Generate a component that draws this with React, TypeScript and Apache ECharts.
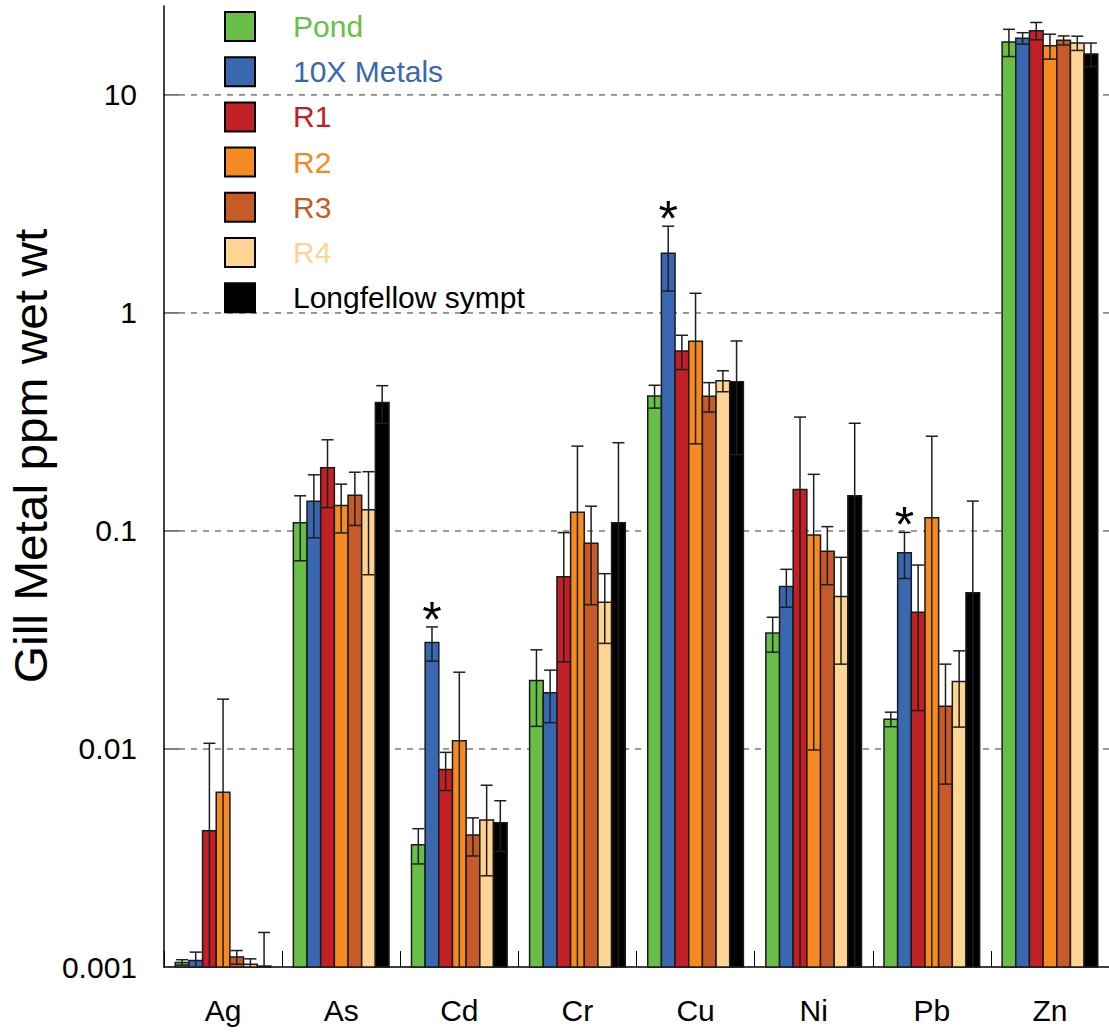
import React, { useEffect, useRef } from 'react';
import * as echarts from 'echarts';

const categories = ['Ag', 'As', 'Cd', 'Cr', 'Cu', 'Ni', 'Pb', 'Zn'];
const seriesNames = ['Pond', '10X Metals', 'R1', 'R2', 'R3', 'R4', 'Longfellow sympt'];
const colors = ['#69BE47', '#3A68B0', '#C02026', '#F48A20', '#C65A28', '#FDD493', '#000000'];

// means (ppm wet wt)
const pond = [0.00105, 0.109, 0.00364, 0.0206, 0.416, 0.034, 0.0137, 17.5];
const metals10x = [0.00107, 0.137, 0.0308, 0.0181, 1.88, 0.0557, 0.0795, 18.2];
const r1 = [0.00422, 0.195, 0.00805, 0.0617, 0.67, 0.155, 0.0424, 19.7];
const r2 = [0.00633, 0.131, 0.0109, 0.122, 0.741, 0.0959, 0.115, 16.8];
const r3 = [0.00111, 0.146, 0.00403, 0.0879, 0.415, 0.0807, 0.0157, 17.8];
const r4 = [0.00103, 0.125, 0.00472, 0.0471, 0.489, 0.0501, 0.0204, 17.3];
const longfellow = [0.00101, 0.388, 0.00459, 0.109, 0.484, 0.145, 0.0521, 15.4];

// standard errors
const pondErr = [0.00003, 0.036, 0.00067, 0.0079, 0.05, 0.0062, 0.00105, 2.5];
const metals10xErr = [0.0001, 0.044, 0.0055, 0.0049, 0.62, 0.011, 0.019, 1.1];
const r1Err = [0.0064, 0.067, 0.0016, 0.0366, 0.12, 0.178, 0.0274, 1.8];
const r2Err = [0.0106, 0.033, 0.0116, 0.123, 0.49, 0.086, 0.157, 2.2];
const r3Err = [0.00008, 0.04, 0.0008, 0.042, 0.064, 0.024, 0.0088, 0.85];
const r4Err = [0.00006, 0.062, 0.0021, 0.0166, 0.054, 0.0256, 0.0078, 1.3];
const longfellowErr = [0.00043, 0.076, 0.0012, 0.145, 0.26, 0.167, 0.085, 1.9];

// significance markers (10X Metals)
const sig10x = [0, 0, 1, 0, 1, 0, 1, 0];

// y axis (log10 space)
const yTickLogs = [-3, -2, -1, 0, 1];
const Y_MIN_LOG = -3;
const Y_MAX_LOG = 1.408;

const FONT = '"Liberation Sans", Arial, Helvetica, sans-serif';

export default function App() {
  const ref = useRef<HTMLDivElement>(null);

  useEffect(() => {
    const chart = echarts.init(ref.current as HTMLDivElement, null, { renderer: 'svg' });
    const values = [pond, metals10x, r1, r2, r3, r4, longfellow];
    const errs = [pondErr, metals10xErr, r1Err, r2Err, r3Err, r4Err, longfellowErr];
    const nSeries = values.length;
    const minVal = Math.pow(10, Y_MIN_LOG);

    const makeSeries = (si: number) => ({
      type: 'custom',
      name: seriesNames[si],
      z: 3,
      itemStyle: { color: colors[si], borderColor: '#000', borderWidth: 1.5 },
      encode: { x: 0, y: [1, 2, 3] },
      data: categories.map((c, i) => {
        const v = values[si][i];
        const e = errs[si][i];
        const lo = v - e;
        const hasLo = lo > minVal;
        return [
          i,
          Math.log10(v),
          Math.log10(v + e),
          hasLo ? Math.log10(lo) : Y_MIN_LOG,
          hasLo ? 1 : 0,
          si === 1 ? sig10x[i] : 0,
        ];
      }),
      renderItem: (params: any, api: any) => {
        const cat = api.value(0);
        const cw = api.size([1, 0])[0];
        const bw = cw * 0.1157;
        const topPt = api.coord([cat, api.value(1)]);
        const basePt = api.coord([cat, Y_MIN_LOG]);
        const upPt = api.coord([cat, api.value(2)]);
        const loPt = api.coord([cat, api.value(3)]);
        const x0 = topPt[0] + (si - nSeries / 2) * bw;
        const cx = x0 + bw / 2;
        const errStyle = { stroke: '#1e1e1e', lineWidth: 1.5 };
        const children: any[] = [
          {
            type: 'rect',
            shape: { x: x0, y: topPt[1], width: bw, height: Math.max(basePt[1] - topPt[1], 1) },
            style: { fill: colors[si], stroke: '#1a1a1a', lineWidth: 1.5 },
          },
          { type: 'line', shape: { x1: cx, y1: upPt[1], x2: cx, y2: loPt[1] }, style: errStyle },
          { type: 'line', shape: { x1: cx - 6, y1: upPt[1], x2: cx + 6, y2: upPt[1] }, style: errStyle },
        ];
        if (api.value(4)) {
          children.push({ type: 'line', shape: { x1: cx - 6, y1: loPt[1], x2: cx + 6, y2: loPt[1] }, style: errStyle });
        }
        if (api.value(5)) {
          children.push({
            type: 'text',
            style: {
              text: '*',
              x: cx,
              y: upPt[1] - 32,
              textAlign: 'center',
              textVerticalAlign: 'top',
              fontSize: 50,
              fontFamily: FONT,
              fill: '#000',
            },
          });
        }
        return { type: 'group', children };
      },
    });

    const gridSeries = {
      type: 'custom',
      name: '__grid',
      z: 1,
      silent: true,
      encode: { x: 0, y: 1 },
      data: yTickLogs.filter((v) => v > Y_MIN_LOG).map((v) => [0, v]),
      renderItem: (params: any, api: any) => {
        const cs = params.coordSys;
        const y = api.coord([0, api.value(1)])[1];
        return {
          type: 'group',
          children: [
            { type: 'line', shape: { x1: cs.x, y1: y, x2: cs.x + 15, y2: y }, style: { stroke: '#000', lineWidth: 1 } },
            {
              type: 'line',
              shape: { x1: cs.x + 15, y1: y, x2: cs.x + cs.width, y2: y },
              style: { stroke: '#333', lineWidth: 1, lineDash: [6, 6] },
            },
          ],
        };
      },
    };

    chart.setOption({
      animation: false,
      backgroundColor: '#fff',
      grid: { left: 164, right: -12, top: 6, bottom: 66, containLabel: false },
      legend: {
        orient: 'vertical',
        left: 224,
        top: 11,
        padding: 0,
        itemWidth: 30,
        itemHeight: 29,
        itemGap: 14.2,
        icon: 'rect',
        selectedMode: false,
        itemStyle: { borderColor: '#000', borderWidth: 2 },
        textStyle: { fontSize: 30, fontFamily: FONT, padding: [0, 0, 0, 33], lineHeight: 29 },
        data: seriesNames.map((n, i) => ({
          name: n,
          itemStyle: { color: colors[i], borderColor: '#000', borderWidth: 2 },
          textStyle: { color: colors[i], fontSize: 30, fontFamily: FONT, padding: [0, 0, 0, 33], lineHeight: 29 },
        })),
      },
      xAxis: {
        type: 'category',
        data: categories,
        axisLine: { show: true, onZero: false, lineStyle: { color: '#000', width: 1.5 } },
        axisTick: { show: true, inside: true, length: 16, interval: 0, lineStyle: { color: '#000', width: 1 } },
        axisLabel: { fontSize: 30, color: '#000', fontFamily: FONT, margin: 28, interval: 0 },
        splitLine: { show: false },
      },
      yAxis: {
        type: 'value',
        min: Y_MIN_LOG,
        max: Y_MAX_LOG,
        interval: 1,
        axisLine: { show: true, lineStyle: { color: '#000', width: 1.5 } },
        axisTick: { show: false },
        splitLine: { show: false },
        axisLabel: {
          fontSize: 30,
          color: '#000',
          fontFamily: FONT,
          margin: 27,
          showMaxLabel: false,
          formatter: (v: number) =>
            Math.abs(v - Math.round(v)) < 1e-6 ? String(Number(Math.pow(10, Math.round(v)).toPrecision(1))) : '',
        },
      },
      graphic: [
        {
          type: 'text',
          x: 31,
          y: 456,
          rotation: Math.PI / 2,
          scaleX: 1.04,
          style: {
            text: 'Gill Metal ppm wet wt',
            fontSize: 46,
            fontFamily: FONT,
            fill: '#000',
            textAlign: 'center',
            textVerticalAlign: 'middle',
          },
        },
      ],
      series: [gridSeries, ...seriesNames.map((_, si) => makeSeries(si))],
    });

    return () => {
      chart.dispose();
    };
  }, []);

  return (
    <div
      ref={ref}
      style={{ position: 'fixed', left: 0, top: 0, width: 1109, height: 1033, background: '#fff' }}
    />
  );
}
